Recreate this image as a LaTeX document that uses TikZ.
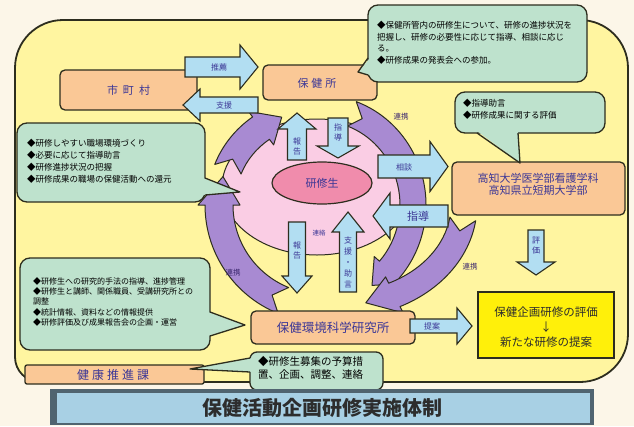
\documentclass[tikz,border=0pt]{standalone}
\usepackage{fontspec}
\setmainfont{Noto Sans CJK JP}
\usetikzlibrary{shapes.geometric}
\definecolor{cream}{RGB}{252,246,232}
\definecolor{ybg}{RGB}{255,245,160}
\definecolor{obox}{RGB}{250,200,150}
\definecolor{mint}{RGB}{190,226,205}
\definecolor{ablue}{RGB}{178,222,242}
\definecolor{parc}{RGB}{168,138,210}
\definecolor{pinkc}{RGB}{250,205,228}
\definecolor{pinke}{RGB}{240,140,172}
\definecolor{byel}{RGB}{255,240,10}
\definecolor{tblue}{RGB}{168,208,228}
\definecolor{tdark}{RGB}{80,100,112}
\definecolor{edge}{RGB}{45,45,30}
\definecolor{navy}{RGB}{60,55,150}
\definecolor{dpurp}{RGB}{60,40,110}
\definecolor{ttext}{RGB}{45,45,45}

\tikzset{
 orangebox/.style={draw=edge, line width=1.3pt, fill=obox, rounded corners=5pt},
 calloutbox/.style={draw=edge, line width=1.3pt, fill=mint, rounded corners=10pt},
 barrow/.style={draw=edge, line width=1.1pt, fill=ablue, line join=miter},
 parcstyle/.style={draw=edge, line width=1pt, fill=parc, line join=round},
 boxtext/.style={text=navy, font=\fontsize{11}{12}\selectfont, inner sep=0pt, align=center},
 ctext/.style={text=black, anchor=north west, align=left, inner sep=0pt},
 alabel/.style={text=navy, inner sep=0pt, align=center, font=\fontsize{8}{10}\selectfont},
 plabel/.style={text=dpurp, inner sep=0pt, font=\fontsize{7.5}{9}\selectfont},
 tailedge/.style={draw=edge, line width=1.3pt, line join=round},
}

% block arrow: x, y (tail centre), length, rotation, body half width, head half width, head length
\newcommand{\BArrow}[7]{%
 \draw[barrow,shift={(#1,#2)},rotate=#4] (0,-#5) -- ({#3-#7},-#5) -- ({#3-#7},-#6) -- (#3,0) -- ({#3-#7},#6) -- ({#3-#7},#5) -- (0,#5) -- cycle;}

% curved arrow: cx, cy, rx, ry, start angle, tip angle, half width, head angle
\newcommand{\ArcArrow}[8]{%
 \pgfmathsetmacro\aoX{#3+#7}\pgfmathsetmacro\aoY{#4+#7}%
 \pgfmathsetmacro\aiX{#3-#7}\pgfmathsetmacro\aiY{#4-#7}%
 \pgfmathsetmacro\ahoX{#3+#7+7}\pgfmathsetmacro\ahoY{#4+#7+7}%
 \pgfmathsetmacro\ahiX{#3-#7-7}\pgfmathsetmacro\ahiY{#4-#7-7}%
 \pgfmathsetmacro\hb{#6-#8}\pgfmathsetmacro\nt{#5+7}%
 \filldraw[parcstyle,shift={(#1,#2)}] (#5:{\aoX} and {\aoY}) arc[start angle=#5, end angle=\hb, x radius=\aoX, y radius=\aoY]
  -- (\hb:{\ahoX} and {\ahoY}) -- (#6:{#3} and {#4}) -- (\hb:{\ahiX} and {\ahiY}) -- (\hb:{\aiX} and {\aiY})
  arc[start angle=\hb, end angle=#5, x radius=\aiX, y radius=\aiY] -- (\nt:{#3} and {#4}) -- cycle;}

\begin{document}
\begin{tikzpicture}[x=1pt,y=-1pt]
\useasboundingbox (0,0) rectangle (634,426);
\fill[cream] (0,0) rectangle (634,426);
% yellow background
\draw[draw=edge, fill=ybg, line width=1.8pt] (15,357) -- (15,68) arc[start angle=180,end angle=270,radius=48] -- (580,20) arc[start angle=270,end angle=360,radius=48] -- (628,334) arc[start angle=0,end angle=90,radius=48] -- (40,382) arc[start angle=90,end angle=180,radius=25] -- cycle;

% pink ring
\node[ellipse, draw=edge, line width=1pt, fill=pinkc, minimum width=190pt, minimum height=136pt] (ring) at (317,187) {};

% purple cycle arrows
\ArcArrow{322}{205}{103}{103}{112}{196}{14}{16}
\ArcArrow{320}{200}{98}{90}{200}{247}{14}{14}
\ArcArrow{320}{205}{93}{97}{290}{416}{13}{14}
\ArcArrow{340}{205}{124}{100}{8}{78}{13}{14}

% orange boxes
\node[orangebox, minimum width=137pt, minimum height=40pt] (shi) at (128.5,90) {};
\node[boxtext] at (shi) {市\kern5pt 町\kern5pt 村};
\node[orangebox, minimum width=114pt, minimum height=35pt] (hokenjo) at (320,82.5) {};
\node[boxtext] at (317,83) {保\kern3pt 健\kern3pt 所};
\node[orangebox, minimum width=173pt, minimum height=53pt] (daigaku) at (538.5,188.5) {};
\node[boxtext, font=\fontsize{11}{12}\selectfont] at (538,184) {高知大学医学部看護学科\\高知県立短期大学部};
\node[orangebox, minimum width=164pt, minimum height=33pt] (kenkyujo) at (333,327.5) {};
\node[boxtext, font=\fontsize{12.5}{13}\selectfont] at (kenkyujo) {保健環境科学研究所};
\node[orangebox, minimum width=179pt, minimum height=19pt, rounded corners=2pt] (suishin) at (114.5,374.5) {};
\node[boxtext, font=\fontsize{12}{13}\selectfont] at (113,375) {健\kern3pt 康\kern3pt 推\kern3pt 進\kern3pt 課};
\node[draw=edge, line width=1.5pt, fill=byel, minimum width=136pt, minimum height=66pt] (hyoka) at (546,325) {};
\node[text=ttext, align=center, inner sep=0pt, font=\fontsize{11.5}{15}\selectfont] at (546,327) {保健企画研修の評価\\↓\\新たな研修の提案};

% callouts
\node[calloutbox, minimum width=219pt, minimum height=77pt] (c1) at (477.5,43.5) {};
\fill[mint] (370,58) -- (358,72) -- (370,75) -- cycle;
\draw[tailedge] (368,58) -- (358,72) -- (368,75);
\node[calloutbox, minimum width=150pt, minimum height=41pt] (c2) at (530,112.5) {};
\fill[mint] (477,131) -- (520,163) -- (518,131) -- cycle;
\draw[tailedge] (477,133) -- (520,163) -- (518,133);
\node[calloutbox, minimum width=188pt, minimum height=79pt] (c3) at (111,162.5) {};
\fill[mint] (203,178) -- (240,192) -- (203,195) -- cycle;
\draw[tailedge] (205,178) -- (240,192) -- (205,195);
\node[calloutbox, minimum width=190pt, minimum height=92pt] (c4) at (115,304) {};
\fill[mint] (208,312) -- (245,325) -- (208,336) -- cycle;
\draw[tailedge] (210,312) -- (245,325) -- (210,336);
\node[calloutbox, minimum width=133pt, minimum height=38pt, rounded corners=7pt] (c5) at (316.5,371) {};
\fill[mint] (252,358) -- (190,369) -- (252,372) -- cycle;
\draw[tailedge] (250,358) -- (190,369) -- (250,372);

\node[ctext, font=\fontsize{8.5}{11.5}\selectfont] (t1) at (377,21) {◆保健所管内の研修生について、研修の進捗状況を\\把握し、研修の必要性に応じて指導、相談に応じ\\る。\\◆研修成果の発表会への参加。};
\node[ctext, font=\fontsize{8.5}{12}\selectfont] (t2) at (463,99) {◆指導助言\\◆研修成果に関する評価};
\node[ctext, font=\fontsize{8.5}{12}\selectfont] (t3) at (27,139) {◆研修しやすい職場環境づくり\\◆必要に応じて指導助言\\◆研修進捗状況の把握\\◆研修成果の職場の保健活動への還元};
\node[ctext, font=\fontsize{8}{10.3}\selectfont] (t4) at (33,277) {◆研修生への研究的手法の指導、進捗管理\\◆研修生と講師、関係職員、受講研究所との\\調整\\◆統計情報、資料などの情報提供\\◆研修評価及び成果報告会の企画・運営};
\node[ctext, font=\fontsize{10.5}{13}\selectfont] (t5) at (258,356) {◆研修生募集の予算措\\置、企画、調整、連絡};

% block arrows
\BArrow{185}{67}{73}{0}{10}{22}{18}
\BArrow{258}{105}{75}{180}{8}{16}{17}
\BArrow{297}{160}{47}{90}{9.5}{19}{16}
\BArrow{338}{118}{40}{-90}{10}{21}{12}
\BArrow{378}{166.5}{70}{0}{11.5}{25}{18}
\BArrow{448}{216}{75}{180}{11}{23}{17}
\BArrow{297}{222}{71}{-90}{8.5}{15}{17}
\BArrow{348}{292}{80}{90}{8.5}{16}{20}
\BArrow{536}{230}{45}{-90}{8}{19}{13}
\BArrow{410}{326}{62}{0}{7}{18}{15}

% centre ellipse
\node[ellipse, draw=edge, line width=1.2pt, fill=pinke, minimum width=100pt, minimum height=42pt, text=navy, font=\fontsize{11}{12}\selectfont] (kenshusei) at (322,183) {研修生};

% arrow labels
\node[alabel] (l1) at (219,67) {推薦};
\node[alabel] (l2) at (224,105) {支援};
\node[alabel] (l3) at (297,146) {報\\告};
\node[alabel] (l4) at (338,132) {指\\導};
\node[alabel] (l5) at (404,167) {相談};
\node[alabel, font=\fontsize{11}{12}\selectfont] (l6) at (418,216) {指導};
\node[alabel] (l7) at (297,250) {報\\告};
\node[alabel, font=\fontsize{8}{11}\selectfont] (l8) at (348,262) {支\\援\\・\\助\\言};
\node[alabel] (l9) at (536,246) {評\\価};
\node[alabel] (l10) at (432,326) {提案};
\node[alabel, font=\fontsize{6.5}{7}\selectfont] (l11) at (319,233) {連絡};
\node[plabel] (p1) at (233,273) {連携};
\node[plabel] (p2) at (401,117) {連携};
\node[plabel] (p3) at (470,267) {連携};

% title bar
\fill[tdark] (50,389) rectangle (594,425);
\fill[tblue] (57,393) rectangle (590,423);
\node[text=ttext, inner sep=0pt, font=\fontsize{20}{22}\selectfont\bfseries] (title) at (322,408) {保健活動企画研修実施体制};
\end{tikzpicture}
\end{document}
